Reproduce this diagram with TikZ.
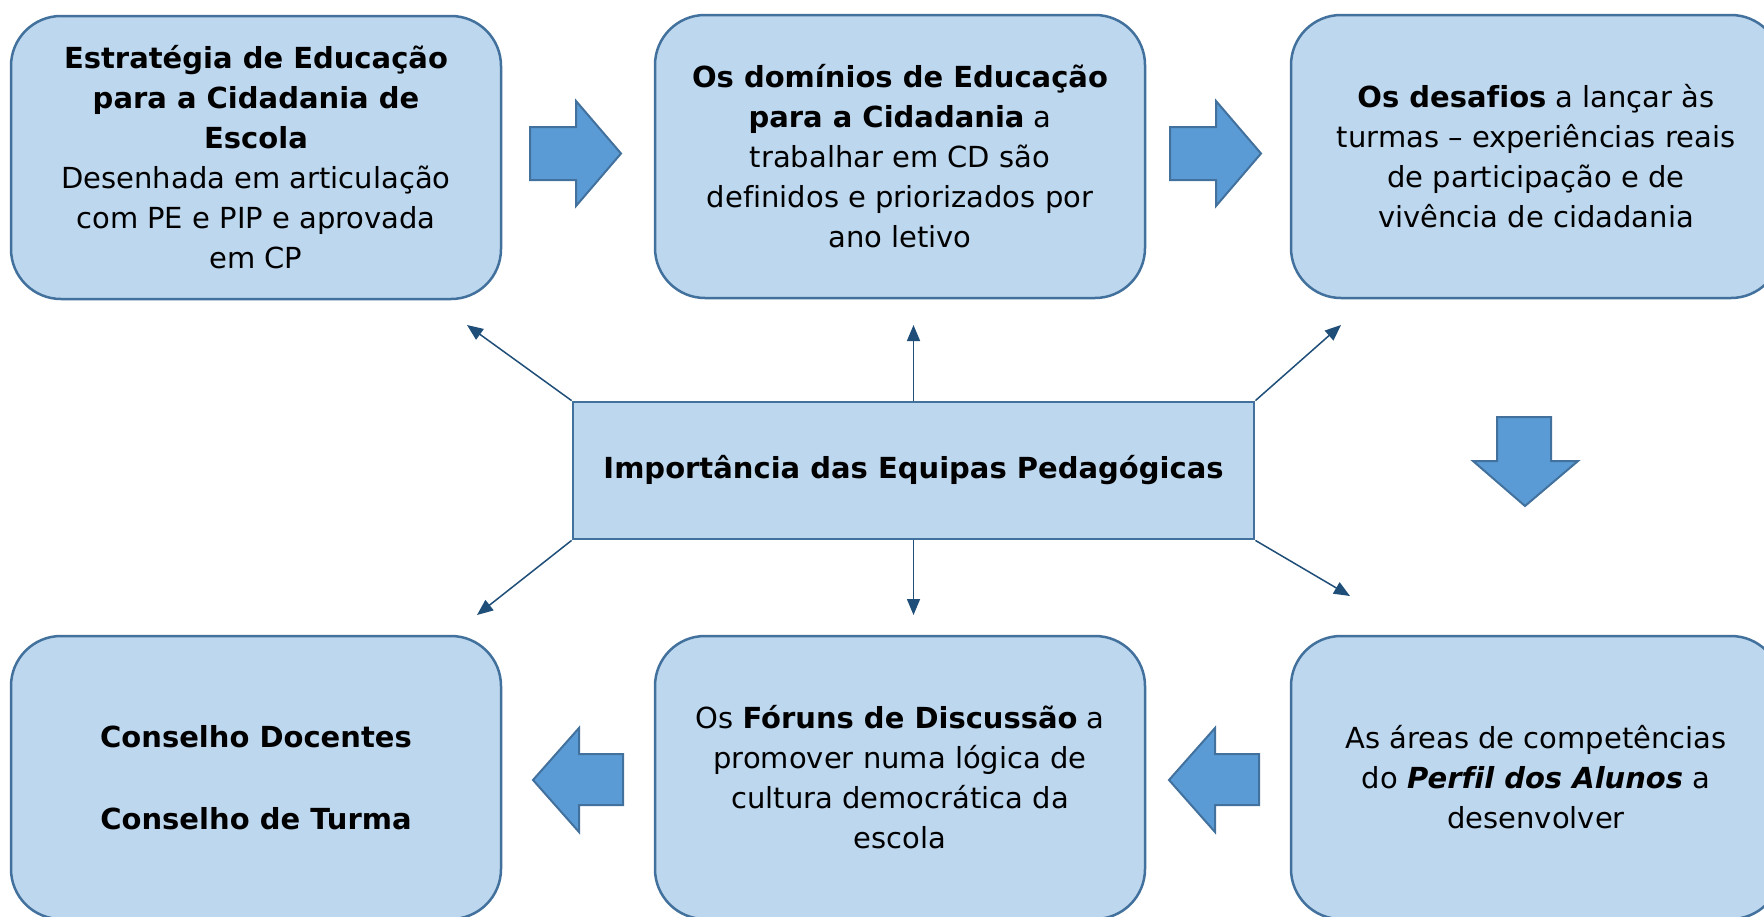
\documentclass[tikz,border=0pt]{standalone}
\usepackage{fontspec}
\setmainfont[Ligatures=NoCommon]{DejaVu Sans}
\usetikzlibrary{arrows.meta}
\definecolor{boxfill}{HTML}{BDD7EE}
\definecolor{boxline}{HTML}{41719C}
\definecolor{arrfill}{HTML}{5B9BD5}
\definecolor{connline}{HTML}{1F4E79}
\tikzset{
  box/.style={draw=boxline, fill=boxfill, line width=2.5pt, rounded corners=50pt,
    minimum width=490pt, minimum height=283pt, align=center, inner sep=0pt,
    font=\fontsize{29}{40}\selectfont},
  hub/.style={draw=boxline, fill=boxfill, line width=2.8pt,
    minimum width=681pt, minimum height=137pt, align=center, inner sep=0pt,
    font=\fontsize{29}{40}\selectfont\bfseries},
  conn/.style={draw=connline, line width=1.5pt, -{Triangle[length=16pt,width=13pt]}},
  bigarrow/.style={draw=boxline, fill=arrfill, line width=2pt, line join=miter}
}
\begin{document}
\begin{tikzpicture}[x=1pt,y=-1pt]
\useasboundingbox (0,0) rectangle (1764,916);
\fill[white] (0,0) rectangle (1764,916);

% boxes
\node[box] (b1) at (256,157.5) {\textbf{Estratégia de Educação}\\\textbf{para a Cidadania de}\\\textbf{Escola}\\Desenhada em articulação\\com PE e PIP e aprovada\\em CP};
\node[box] (b2) at (900,156.5) {\textbf{Os domínios de Educação}\\\textbf{para a Cidadania} a\\trabalhar em CD são\\definidos e priorizados por\\ano letivo};
\node[box] (b3) at (1536,156.5) {\textbf{Os desafios} a lançar às\\turmas – experiências reais\\de participação e de\\vivência de cidadania};
\node[box] (b4) at (256,777.5) {\textbf{Conselho Docentes}\\[42pt]\textbf{Conselho de Turma}};
\node[box] (b5) at (900,777.5) {Os \textbf{Fóruns de Discussão} a\\promover numa lógica de\\cultura democrática da\\escola};
\node[box] (b6) at (1536,777.5) {As áreas de competências\\do \textbf{\textit{Perfil dos Alunos}} a\\desenvolver};

% hub
\node[hub] (hub) at (913.5,470.5) {Importância das Equipas Pedagógicas};

% connector ends
\coordinate (t1) at (467,325);
\coordinate (t2) at (913.5,325);
\coordinate (t3) at (1341,325);
\coordinate (u1) at (477,615);
\coordinate (u2) at (913.5,615);
\coordinate (u3) at (1350,596);
\draw[conn] (hub.north west) -- (t1);
\draw[conn] (hub.north) -- (t2);
\draw[conn] (hub.north east) -- (t3);
\draw[conn] (hub.south west) -- (u1);
\draw[conn] (hub.south) -- (u2);
\draw[conn] (hub.south east) -- (u3);

% block arrows
\draw[bigarrow] (530,127) -- (576,127) -- (576,101) -- (621,153.5) -- (576,206) -- (576,180) -- (530,180) -- cycle;
\draw[bigarrow] (1170,127) -- (1216,127) -- (1216,101) -- (1261,153.5) -- (1216,206) -- (1216,180) -- (1170,180) -- cycle;
\draw[bigarrow] (1497,417) -- (1551,417) -- (1551,461) -- (1578,461) -- (1525,506) -- (1473,461) -- (1497,461) -- cycle;
\draw[bigarrow] (1259,754) -- (1215,754) -- (1215,728) -- (1169,780) -- (1215,832) -- (1215,805) -- (1259,805) -- cycle;
\draw[bigarrow] (623,754) -- (579,754) -- (579,728) -- (533,780) -- (579,832) -- (579,805) -- (623,805) -- cycle;
\end{tikzpicture}
\end{document}
